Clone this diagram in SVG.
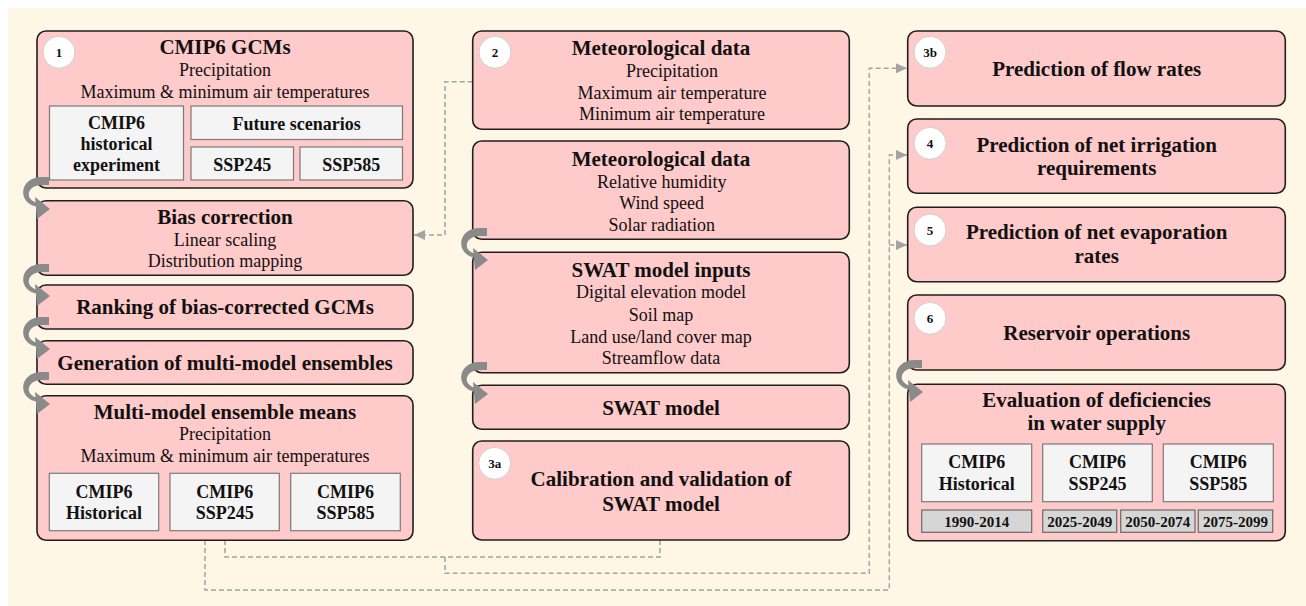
<svg xmlns="http://www.w3.org/2000/svg" width="1306" height="606" viewBox="0 0 1306 606">
<style>
.bg{fill:#fff7e6}
.box{fill:#ffcaca;stroke:#1f1f1f;stroke-width:1.6}
.in{fill:#f4f4f4;stroke:#7a7a7a;stroke-width:1.2}
.yr{fill:#d6d6d6;stroke:#6a6a6a;stroke-width:1.2}
.num{fill:#ffffff;stroke:#cfcfcf;stroke-width:1}
text{font-family:"Liberation Serif","Times New Roman",serif;fill:#111;text-anchor:middle}
.t{font-size:21px;font-weight:bold}
.s{font-size:18px}
.b{font-size:18px;font-weight:bold}
.y{font-size:15px;font-weight:bold}
.n{font-size:13px;font-weight:bold}
.dash{fill:none;stroke:#a3a3a3;stroke-width:1.5;stroke-dasharray:5,3}
.cband{fill:#8a8a8a}
.chead{fill:#8a8a8a}
</style>
<defs>
<marker id="ah" markerUnits="userSpaceOnUse" markerWidth="12" markerHeight="10" refX="11" refY="5" orient="auto">
<path d="M0,0 L11,5 L0,10 z" fill="#a3a3a3"/>
</marker>
<g id="ca">
<path class="cband" d="M1,-4 L-6,-4 C-30,-4 -31,24 -9,26 L-9,22 C-24,20 -22,4 -6,4 L1,4 z"/>
<polygon class="chead" points="-13,16 2,28 -11,38"/>
</g>
</defs>
<rect class="bg" x="8" y="8" width="1298" height="598"/>

<g id="connectors">
<path class="dash" d="M472.7,81.7 H445 V235 H414" marker-end="url(#ah)"/>
<path class="dash" d="M225,540 V557 H660 V540"/>
<path class="dash" d="M445,557 V573.3 H869.3 V68.3 H907" marker-end="url(#ah)"/>
<path class="dash" d="M205,540 V590 H889.3 V155 H907" marker-end="url(#ah)"/>
<path class="dash" d="M889.3,245 H907" marker-end="url(#ah)"/>
</g>

<g id="node1">
<rect class="box" x="37" y="31" width="376" height="157" rx="9"/>
<circle class="num" cx="59" cy="52.3" r="16"/>
<text class="n" x="59" y="57">1</text>
<text class="t" x="225" y="54">CMIP6 GCMs</text>
<text class="s" x="225" y="76">Precipitation</text>
<text class="s" x="225" y="97.5">Maximum &amp; minimum air temperatures</text>
<rect class="in" x="49.5" y="106" width="134" height="74"/>
<text class="b" x="116.5" y="128.5">CMIP6</text>
<text class="b" x="116.5" y="150">historical</text>
<text class="b" x="116.5" y="171">experiment</text>
<rect class="in" x="191" y="106" width="211.5" height="33.5"/>
<text class="b" x="296.7" y="130">Future scenarios</text>
<rect class="in" x="191" y="147" width="102.5" height="33"/>
<text class="b" x="242.2" y="171">SSP245</text>
<rect class="in" x="300" y="147" width="102.5" height="33"/>
<text class="b" x="351.2" y="171">SSP585</text>
</g>

<g id="bias">
<rect class="box" x="37" y="200.7" width="376" height="74.5" rx="9"/>
<text class="t" x="225" y="223.5">Bias correction</text>
<text class="s" x="225" y="246">Linear scaling</text>
<text class="s" x="225" y="267">Distribution mapping</text>
</g>

<g id="ranking">
<rect class="box" x="37" y="285" width="376" height="44" rx="9"/>
<text class="t" x="225" y="313.5">Ranking of bias-corrected GCMs</text>
</g>

<g id="generation">
<rect class="box" x="37" y="340.7" width="376" height="43.5" rx="9"/>
<text class="t" x="225" y="370">Generation of multi-model ensembles</text>
</g>

<g id="ensemble">
<rect class="box" x="37" y="395.7" width="376" height="144.5" rx="9"/>
<text class="t" x="225" y="418.5">Multi-model ensemble means</text>
<text class="s" x="225" y="440">Precipitation</text>
<text class="s" x="225" y="461.7">Maximum &amp; minimum air temperatures</text>
<rect class="in" x="49.3" y="473.3" width="109.4" height="57.4"/>
<text class="b" x="104" y="497.7">CMIP6</text>
<text class="b" x="104" y="519.3">Historical</text>
<rect class="in" x="170" y="473.3" width="109.3" height="57.4"/>
<text class="b" x="224.7" y="497.7">CMIP6</text>
<text class="b" x="224.7" y="519.3">SSP245</text>
<rect class="in" x="290.7" y="473.3" width="109.6" height="57.4"/>
<text class="b" x="345.5" y="497.7">CMIP6</text>
<text class="b" x="345.5" y="519.3">SSP585</text>
</g>

<g id="node2">
<rect class="box" x="472.7" y="31" width="376.6" height="98.3" rx="9"/>
<circle class="num" cx="495" cy="52.3" r="16"/>
<text class="n" x="495" y="57">2</text>
<text class="t" x="661" y="55">Meteorological data</text>
<text class="s" x="672" y="77.3">Precipitation</text>
<text class="s" x="672" y="99">Maximum air temperature</text>
<text class="s" x="672" y="120">Minimum air temperature</text>
</g>

<g id="metdata">
<rect class="box" x="472.7" y="141" width="376.6" height="98.3" rx="9"/>
<text class="t" x="661" y="165.7">Meteorological data</text>
<text class="s" x="661.7" y="188.3">Relative humidity</text>
<text class="s" x="661.7" y="209.3">Wind speed</text>
<text class="s" x="661.7" y="230.7">Solar radiation</text>
</g>

<g id="swatinputs">
<rect class="box" x="472.7" y="252.3" width="376.6" height="120.4" rx="9"/>
<text class="t" x="661" y="276.7">SWAT model inputs</text>
<text class="s" x="661" y="298.3">Digital elevation model</text>
<text class="s" x="661" y="320.7">Soil map</text>
<text class="s" x="661" y="342.7">Land use/land cover map</text>
<text class="s" x="661" y="364">Streamflow data</text>
</g>

<g id="swatmodel">
<rect class="box" x="472.7" y="385.3" width="376.6" height="44" rx="9"/>
<text class="t" x="661" y="415">SWAT model</text>
</g>

<g id="node3a">
<rect class="box" x="472.7" y="441" width="376.6" height="99" rx="9"/>
<circle class="num" cx="494.7" cy="463.3" r="16"/>
<text class="n" x="494.7" y="468">3a</text>
<text class="t" x="661" y="485.7">Calibration and validation of</text>
<text class="t" x="661" y="510.7">SWAT model</text>
</g>

<g id="node3b">
<rect class="box" x="907.7" y="31" width="377.6" height="75" rx="9"/>
<circle class="num" cx="930" cy="52.3" r="16"/>
<text class="n" x="930" y="57">3b</text>
<text class="t" x="1096.7" y="76">Prediction of flow rates</text>
</g>

<g id="node4">
<rect class="box" x="907.7" y="119" width="377.6" height="74.3" rx="9"/>
<circle class="num" cx="930" cy="143.3" r="16"/>
<text class="n" x="930" y="148">4</text>
<text class="t" x="1096.7" y="151.7">Prediction of net irrigation</text>
<text class="t" x="1096.7" y="175">requirements</text>
</g>

<g id="node5">
<rect class="box" x="907.7" y="207.3" width="377.6" height="74.4" rx="9"/>
<circle class="num" cx="930" cy="230" r="16"/>
<text class="n" x="930" y="234.7">5</text>
<text class="t" x="1096.7" y="239.3">Prediction of net evaporation</text>
<text class="t" x="1096.7" y="263.3">rates</text>
</g>

<g id="node6">
<rect class="box" x="907.7" y="295" width="377.6" height="75" rx="9"/>
<circle class="num" cx="930" cy="318.3" r="16"/>
<text class="n" x="930" y="323">6</text>
<text class="t" x="1096.7" y="340">Reservoir operations</text>
</g>

<g id="evaluation">
<rect class="box" x="907.7" y="384.3" width="377.6" height="156.4" rx="9"/>
<text class="t" x="1096.7" y="406.7">Evaluation of deficiencies</text>
<text class="t" x="1096.7" y="430">in water supply</text>
<rect class="in" x="921.7" y="444" width="110" height="57.7"/>
<text class="b" x="976.7" y="468.3">CMIP6</text>
<text class="b" x="976.7" y="490">Historical</text>
<rect class="in" x="1042.7" y="444" width="109.6" height="57.7"/>
<text class="b" x="1097.5" y="468.3">CMIP6</text>
<text class="b" x="1097.5" y="490">SSP245</text>
<rect class="in" x="1163.3" y="444" width="110" height="57.7"/>
<text class="b" x="1218.3" y="468.3">CMIP6</text>
<text class="b" x="1218.3" y="490">SSP585</text>
<rect class="yr" x="921.7" y="510" width="110" height="22.3"/>
<text class="y" x="976.7" y="526.5">1990-2014</text>
<rect class="yr" x="1042.7" y="510" width="74" height="22.3"/>
<text class="y" x="1079.7" y="526.5">2025-2049</text>
<rect class="yr" x="1120.7" y="510" width="74.3" height="22.3"/>
<text class="y" x="1157.8" y="526.5">2050-2074</text>
<rect class="yr" x="1198.3" y="510" width="74.4" height="22.3"/>
<text class="y" x="1235.5" y="526.5">2075-2099</text>
</g>

<g id="flow-arrows">
<use href="#ca" x="48" y="181"/>
<use href="#ca" x="48" y="268"/>
<use href="#ca" x="48" y="321"/>
<use href="#ca" x="48" y="376"/>
<use href="#ca" x="486" y="232"/>
<use href="#ca" x="486" y="366"/>
<use href="#ca" x="921" y="364"/>
</g>
</svg>
